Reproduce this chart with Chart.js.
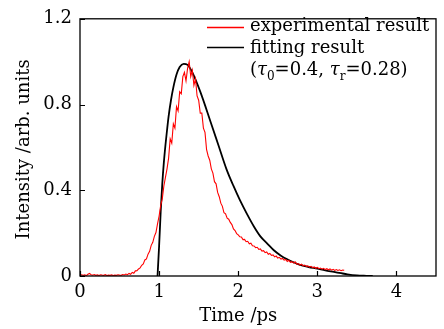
<!DOCTYPE html>
<html>
<head>
<meta charset="utf-8">
<script src="https://cdn.jsdelivr.net/npm/chart.js@4.4.1/dist/chart.umd.min.js"></script>
<style>
  html, body { margin: 0; padding: 0; background: #fff; }
  #wrap { width: 444px; height: 329px; }
</style>
</head>
<body>
<div id="wrap"><canvas id="c"></canvas></div>
<script>
// axis ticks
const xTickValues = [0, 1, 2, 3, 4];
const yTickValues = [0, 0.4, 0.8, 1.2];

// experimental result (time in ps, intensity arb. units)
const expTime = [
  0.00, 0.02, 0.04, 0.06, 0.08, 0.10, 0.12, 0.14, 0.16, 0.18,
  0.20, 0.22, 0.24, 0.26, 0.28, 0.30, 0.32, 0.34, 0.36, 0.38,
  0.40, 0.42, 0.44, 0.46, 0.48, 0.50, 0.52, 0.54, 0.56, 0.58,
  0.60, 0.62, 0.64, 0.66, 0.68, 0.70, 0.72, 0.74, 0.76, 0.78,
  0.80, 0.82, 0.84, 0.86, 0.88, 0.90, 0.92, 0.94, 0.96, 0.98,
  1.00, 1.02, 1.04, 1.06, 1.08, 1.10, 1.12, 1.14, 1.16, 1.18,
  1.20, 1.22, 1.24, 1.26, 1.28, 1.30, 1.32, 1.34, 1.36, 1.38,
  1.40, 1.42, 1.44, 1.46, 1.48, 1.50, 1.52, 1.54, 1.56, 1.58,
  1.60, 1.62, 1.64, 1.66, 1.68, 1.70, 1.72, 1.74, 1.76, 1.78,
  1.80, 1.82, 1.84, 1.86, 1.88, 1.90, 1.92, 1.94, 1.96, 1.98,
  2.00, 2.02, 2.04, 2.06, 2.08, 2.10, 2.12, 2.14, 2.16, 2.18,
  2.20, 2.22, 2.24, 2.26, 2.28, 2.30, 2.32, 2.34, 2.36, 2.38,
  2.40, 2.42, 2.44, 2.46, 2.48, 2.50, 2.52, 2.54, 2.56, 2.58,
  2.60, 2.62, 2.64, 2.66, 2.68, 2.70, 2.72, 2.74, 2.76, 2.78,
  2.80, 2.82, 2.84, 2.86, 2.88, 2.90, 2.92, 2.94, 2.96, 2.98,
  3.00, 3.02, 3.04, 3.06, 3.08, 3.10, 3.12, 3.14, 3.16, 3.18,
  3.20, 3.22, 3.24, 3.26, 3.28, 3.30, 3.32, 3.34
];
const expIntensity = [
  0.004, 0.006, 0.003, 0.005, 0.002, 0.008, 0.012, 0.006, 0.004, 0.007,
  0.003, 0.005, 0.002, 0.006, 0.004, 0.003, 0.006, 0.002, 0.004, 0.003,
  0.005, 0.002, 0.004, 0.003, 0.006, 0.004, 0.003, 0.007, 0.005, 0.009,
  0.006, 0.012, 0.008, 0.017, 0.013, 0.024, 0.025, 0.033, 0.038, 0.050,
  0.056, 0.075, 0.080, 0.102, 0.115, 0.143, 0.157, 0.185, 0.203, 0.243,
  0.280, 0.330, 0.360, 0.420, 0.460, 0.500, 0.550, 0.640, 0.620, 0.710,
  0.690, 0.790, 0.770, 0.860, 0.850, 0.930, 0.950, 0.910, 0.970, 1.000,
  0.930, 0.960, 0.890, 0.920, 0.840, 0.820, 0.760, 0.760, 0.690, 0.670,
  0.590, 0.560, 0.540, 0.500, 0.480, 0.440, 0.430, 0.390, 0.370, 0.340,
  0.325, 0.295, 0.290, 0.270, 0.265, 0.250, 0.240, 0.220, 0.212, 0.198,
  0.192, 0.183, 0.182, 0.170, 0.171, 0.160, 0.162, 0.150, 0.153, 0.141,
  0.140, 0.132, 0.134, 0.124, 0.126, 0.116, 0.118, 0.109, 0.112, 0.101,
  0.105, 0.096, 0.098, 0.089, 0.093, 0.084, 0.087, 0.079, 0.082, 0.074,
  0.077, 0.068, 0.073, 0.064, 0.067, 0.060, 0.066, 0.055, 0.058, 0.051,
  0.055, 0.047, 0.051, 0.045, 0.047, 0.041, 0.045, 0.039, 0.042, 0.036,
  0.040, 0.034, 0.037, 0.032, 0.036, 0.030, 0.034, 0.029, 0.033, 0.027,
  0.031, 0.026, 0.030, 0.026, 0.029, 0.025, 0.028, 0.027
];

// fitting result
const fitTime = [
  0.98, 0.99, 1.00, 1.02, 1.04, 1.06, 1.08, 1.10, 1.12, 1.15,
  1.18, 1.22, 1.26, 1.31, 1.36, 1.42, 1.52, 1.65, 1.75, 1.85,
  1.94, 2.02, 2.11, 2.20, 2.28, 2.37, 2.45, 2.54, 2.62, 2.70,
  2.78, 2.89, 3.00, 3.10, 3.21, 3.30, 3.38, 3.50, 3.62, 3.70
];
const fitIntensity = [
  0.00, 0.07, 0.14, 0.30, 0.43, 0.53, 0.61, 0.68, 0.745, 0.82,
  0.88, 0.94, 0.975, 0.99, 0.985, 0.95, 0.86, 0.72, 0.61, 0.50,
  0.42, 0.355, 0.29, 0.23, 0.185, 0.15, 0.12, 0.095, 0.078, 0.064,
  0.052, 0.042, 0.034, 0.026, 0.019, 0.013, 0.008, 0.003, 0.001, 0.00
];

const FONT = "'DejaVu Serif', serif";

function toPoints(xs, ys) {
  return xs.map((x, i) => ({ x: x, y: ys[i] }));
}

// frame, inward ticks, axis titles and the in-plot legend
const decorPlugin = {
  id: 'decor',
  afterDraw(chart) {
    const ctx = chart.ctx;
    const a = chart.chartArea;
    const xs = chart.scales.x;
    const ys = chart.scales.y;
    ctx.save();
    ctx.strokeStyle = '#000';
    ctx.lineWidth = 1.3;
    ctx.strokeRect(a.left, a.top, a.right - a.left, a.bottom - a.top);

    ctx.lineWidth = 1.2;
    ctx.beginPath();
    xTickValues.forEach(v => {
      const px = Math.round(xs.getPixelForValue(v)) + 0.5;
      ctx.moveTo(px, a.bottom);
      ctx.lineTo(px, a.bottom - 5);
    });
    yTickValues.forEach(v => {
      const py = Math.round(ys.getPixelForValue(v)) + 0.5;
      ctx.moveTo(a.left, py);
      ctx.lineTo(a.left + 5, py);
    });
    ctx.stroke();

    // axis titles
    ctx.fillStyle = '#000';
    ctx.font = '18px ' + FONT;
    ctx.textAlign = 'center';
    ctx.textBaseline = 'alphabetic';
    ctx.fillText('Time /ps', xs.getPixelForValue(2), 321);
    ctx.save();
    ctx.translate(29, (a.top + a.bottom) / 2 + 2);
    ctx.rotate(-Math.PI / 2);
    ctx.fillText('Intensity /arb. units', 0, 0);
    ctx.restore();

    // legend
    ctx.lineWidth = 1.3;
    ctx.strokeStyle = '#ff0000';
    ctx.beginPath(); ctx.moveTo(207, 27.5); ctx.lineTo(244, 27.5); ctx.stroke();
    ctx.strokeStyle = '#000';
    ctx.lineWidth = 1.6;
    ctx.beginPath(); ctx.moveTo(207, 47.5); ctx.lineTo(244, 47.5); ctx.stroke();

    ctx.textAlign = 'left';
    ctx.font = '18px ' + FONT;
    ctx.fillText('experimental result', 250, 31);
    ctx.fillText('fitting result', 250, 53);

    // (τ0=0.4, τr=0.28)
    let x = 250;
    const base = 75;
    const parts = [
      { t: '(', f: '18px ' + FONT, dy: 0 },
      { t: 'τ', f: 'italic 18px ' + FONT, dy: 0 },
      { t: '0', f: '12px ' + FONT, dy: 5 },
      { t: '=0.4, ', f: '18px ' + FONT, dy: 0 },
      { t: 'τ', f: 'italic 18px ' + FONT, dy: 0 },
      { t: 'r', f: '12px ' + FONT, dy: 5 },
      { t: '=0.28)', f: '18px ' + FONT, dy: 0 }
    ];
    parts.forEach(p => {
      ctx.font = p.f;
      ctx.fillText(p.t, x, base + p.dy);
      x += ctx.measureText(p.t).width;
    });
    ctx.restore();
  }
};

Chart.defaults.font.family = FONT;
Chart.defaults.font.size = 18;
Chart.defaults.color = '#000';

new Chart(document.getElementById('c'), {
  type: 'line',
  data: {
    datasets: [
      {
        label: 'experimental result',
        data: toPoints(expTime, expIntensity),
        borderColor: '#ff0000',
        borderWidth: 1.1,
        pointRadius: 0,
        tension: 0,
        fill: false
      },
      {
        label: 'fitting result',
        data: toPoints(fitTime, fitIntensity),
        borderColor: '#000000',
        borderWidth: 1.8,
        pointRadius: 0,
        cubicInterpolationMode: 'monotone',
        fill: false
      }
    ]
  },
  options: {
    responsive: true,
    maintainAspectRatio: false,
    animation: false,
    layout: { padding: { top: 13, right: 8, left: 0, bottom: 0 } },
    plugins: {
      legend: { display: false },
      tooltip: { enabled: false }
    },
    scales: {
      x: {
        type: 'linear',
        min: 0,
        max: 4.5,
        afterBuildTicks: s => { s.ticks = xTickValues.map(v => ({ value: v })); },
        afterFit: s => { s.height = 53; },
        grid: { display: false, drawTicks: false },
        border: { display: false },
        ticks: { padding: 6, maxRotation: 0, callback: v => String(v) }
      },
      y: {
        type: 'linear',
        min: 0,
        max: 1.2,
        afterBuildTicks: s => { s.ticks = yTickValues.map(v => ({ value: v })); },
        afterFit: s => { s.width = 80; },
        grid: { display: false, drawTicks: false },
        border: { display: false },
        ticks: { padding: 8, callback: v => String(v) }
      }
    }
  },
  plugins: [decorPlugin]
});
</script>
</body>
</html>
